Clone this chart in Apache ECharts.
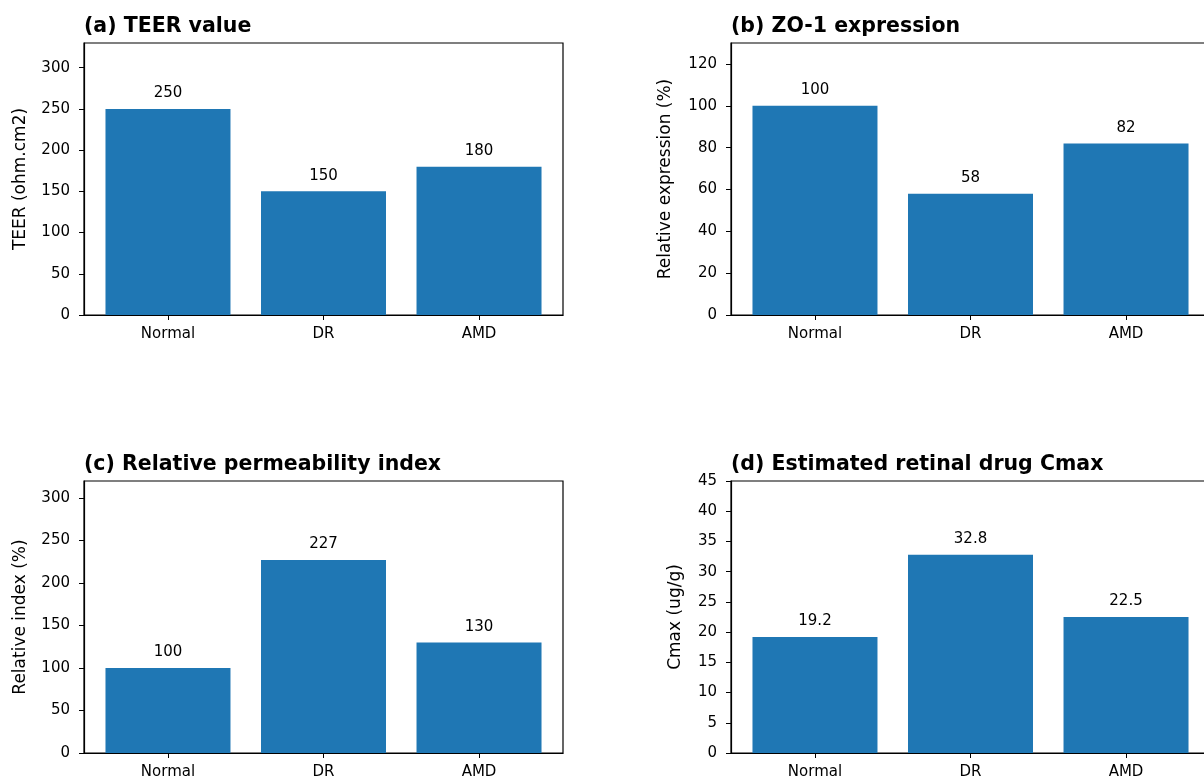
<!DOCTYPE html>
<html>
<head>
<meta charset="utf-8">
<script src="https://cdn.jsdelivr.net/npm/echarts@6/dist/echarts.min.js"></script>
<style>html,body{margin:0;padding:0;background:#fff}#c{width:1204px;height:780px}</style>
</head>
<body>
<div id="c"></div>
<script>
var categories = ["Normal", "DR", "AMD"];
var teerValues = [250, 150, 180];
var zo1Values = [100, 58, 82];
var permValues = [100, 227, 130];
var cmaxValues = [19.2, 32.8, 22.5];
var titles = ["(a) TEER value", "(b) ZO-1 expression", "(c) Relative permeability index", "(d) Estimated retinal drug Cmax"];
var yNames = ["TEER (ohm.cm2)", "Relative expression (%)", "Relative index (%)", "Cmax (ug/g)"];
var yMax = [330, 130, 320, 45];
var yInterval = [50, 20, 50, 5];
var seriesValues = [teerValues, zo1Values, permValues, cmaxValues];

var FONT = "DejaVu Sans";
var lefts = [84, 731, 84, 731];
var tops = [43, 43, 481, 481];
var nameGaps = [55, 57, 55, 47];
var option = {
  animation: false,
  backgroundColor: "#fff",
  textStyle: {fontFamily: FONT},
  title: [], grid: [], xAxis: [], yAxis: [], series: []
};
for (var i = 0; i < 4; i++) {
  option.title.push({
    text: titles[i], left: lefts[i], top: tops[i] - 27, padding: 0,
    textStyle: {fontFamily: FONT, fontSize: 20.5, fontWeight: "bold", color: "#000"}
  });
  option.grid.push({
    left: lefts[i], top: tops[i], width: 479, height: 272,
    outerBoundsMode: "none", containLabel: false,
    show: true, borderColor: "#000", borderWidth: 1.2, backgroundColor: "transparent"
  });
  option.xAxis.push({
    type: "value", gridIndex: i, min: -0.54, max: 2.54,
    splitLine: {show: false},
    axisLine: {show: true, onZero: false, lineStyle: {color: "#000", width: 1.2}},
    axisTick: {show: true, length: 5, customValues: [0, 1, 2], lineStyle: {color: "#000"}},
    axisLabel: {
      customValues: [0, 1, 2], margin: 12, fontSize: 15, color: "#000", fontFamily: FONT,
      formatter: function (v) { return categories[Math.round(v)]; }
    }
  });
  option.yAxis.push({
    type: "value", gridIndex: i, min: 0, max: yMax[i], interval: yInterval[i],
    name: yNames[i], nameLocation: "middle", nameGap: nameGaps[i], nameRotate: 90,
    nameTextStyle: {fontSize: 17, color: "#000", fontFamily: FONT},
    splitLine: {show: false},
    axisLine: {show: true, onZero: false, lineStyle: {color: "#000", width: 1.2}},
    axisTick: {show: true, length: 5, lineStyle: {color: "#000"}},
    axisLabel: {
      margin: 14, fontSize: 15, color: "#000", fontFamily: FONT,
      showMaxLabel: yMax[i] % yInterval[i] === 0
    }
  });
  var data = seriesValues[i].map(function (v, k) { return [k, v]; });
  option.series.push({
    type: "bar", xAxisIndex: i, yAxisIndex: i, data: data, barWidth: 125,
    itemStyle: {color: "#1f77b4"},
    label: {
      show: true, position: "top", distance: 8, fontSize: 15, color: "#000", fontFamily: FONT,
      formatter: function (p) { return String(p.value[1]); }
    }
  });
}
var chart = echarts.init(document.getElementById("c"));
chart.setOption(option);
</script>
</body>
</html>
